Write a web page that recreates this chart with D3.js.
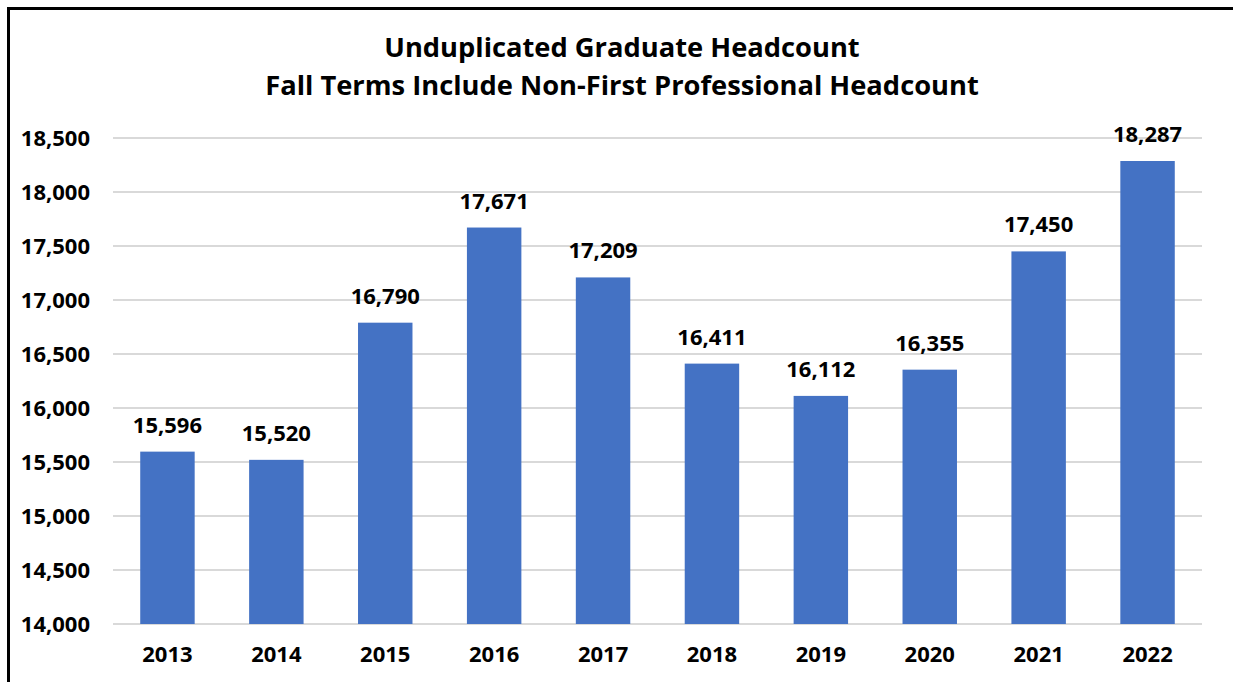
<!DOCTYPE html>
<html><head><meta charset="utf-8">
<script src="https://cdn.jsdelivr.net/npm/d3@7"></script>
<style>
html,body{margin:0;padding:0;background:#fff;}
svg{display:block;}
text{font-family:"Open Sans",sans-serif;font-weight:bold;fill:#000;}
</style></head><body>
<svg id="c" width="1233" height="682"></svg>
<script>
const years = ["2013","2014","2015","2016","2017","2018","2019","2020","2021","2022"];
const headcount = [15596,15520,16790,17671,17209,16411,16112,16355,17450,18287];
const yTicks = [14000,14500,15000,15500,16000,16500,17000,17500,18000,18500];
const titleLines = ["Unduplicated Graduate Headcount","Fall Terms Include Non-First Professional Headcount"];

const svg = d3.select("#c");
const W = 1233, H = 682;
const m = {left:113, right:W-1202, top:138, bottom:H-624};

// border (top and left visible)
svg.append("rect").attr("x",8.5).attr("y",8.5).attr("width",W+20).attr("height",H+20)
  .attr("fill","none").attr("stroke","#000").attr("stroke-width",3);

const x = d3.scaleBand().domain(years).range([m.left, W-m.right]).paddingInner(0.5).paddingOuter(0.25);
const y = d3.scaleLinear().domain([14000,18500]).range([H-m.bottom, m.top]);

// gridlines
svg.append("g").selectAll("line").data(yTicks).join("line")
  .attr("x1",m.left).attr("x2",W-m.right)
  .attr("y1",d=>y(d)).attr("y2",d=>y(d))
  .attr("stroke","#d9d9d9").attr("stroke-width",2);

// y axis labels
const yAxis = d3.axisLeft(y).tickValues(yTicks).tickFormat(d3.format(",")).tickSize(0).tickPadding(23);
const gy = svg.append("g").attr("transform",`translate(${m.left},0)`).call(yAxis);
gy.select(".domain").remove();
gy.selectAll("text").attr("font-size",22).style("font-family","'Open Sans',sans-serif").style("font-weight","bold").attr("fill","#000");

// bars
svg.append("g").selectAll("rect").data(years).join("rect")
  .attr("x",d=>x(d)).attr("width",x.bandwidth())
  .attr("y",(d,i)=>y(headcount[i])).attr("height",(d,i)=>y(14000)-y(headcount[i]))
  .attr("fill","#4472C4");

// value labels
svg.append("g").selectAll("text").data(years).join("text")
  .attr("x",d=>x(d)+x.bandwidth()/2).attr("y",(d,i)=>y(headcount[i])-19)
  .attr("text-anchor","middle").attr("font-size",22)
  .text((d,i)=>d3.format(",")(headcount[i]));

// x axis labels
const xAxis = d3.axisBottom(x).tickSize(0).tickPadding(22);
const gx = svg.append("g").attr("transform",`translate(0,${H-m.bottom})`).call(xAxis);
gx.select(".domain").remove();
gx.selectAll("text").attr("font-size",22).style("font-family","'Open Sans',sans-serif").style("font-weight","bold").attr("fill","#000");

// title
svg.append("g").selectAll("text").data(titleLines).join("text")
  .attr("x",622).attr("y",(d,i)=>i===0?57:95)
  .attr("text-anchor","middle").attr("font-size",27.3)
  .text(d=>d);
</script>
</body></html>
